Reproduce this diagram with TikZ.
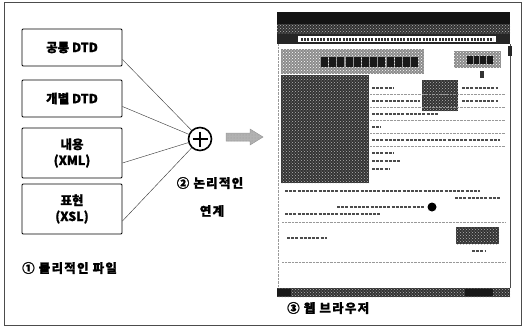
\documentclass[tikz,border=0pt]{standalone}
\usepackage{fontspec}
\newfontfamily\kr{Noto Sans CJK KR}[BoldFeatures={FakeBold=1.2}]
\newfontfamily\krl{Noto Sans CJK KR}[BoldFeatures={FakeBold=1.2}, LetterSpace=10]
\usetikzlibrary{calc,patterns}
\begin{document}
\begin{tikzpicture}[x=1pt,y=-1pt,
  fbox/.style={draw, line width=0.9pt, rounded corners=1pt, minimum width=100pt, inner sep=0pt,
    font=\kr\bfseries\fontsize{12.5}{16}\selectfont, align=center},
  link/.style={line width=0.45pt, black!75},
  lbl/.style={font=\krl\bfseries\fontsize{12.5}{14}\selectfont, inner sep=0pt},
  scrib/.style={line width=2.8pt, black!70, dash pattern=on 3pt off 1.2pt},
  fscrib/.style={line width=3pt, black!80, dash pattern=on 2pt off 1.2pt},
  sep/.style={line width=0.4pt, black!40, densely dotted},
  noisy/.style={fill=black!80, postaction={pattern=crosshatch dots, pattern color=white!70!black}},
  lnoisy/.style={fill=black!45, postaction={pattern=crosshatch dots, pattern color=white}}]
\useasboundingbox (0,0) rectangle (524,327);
\draw[line width=0.6pt, black!70] (4,2) rectangle (521,325);

% physical files
\node[fbox, minimum height=37pt] (b1) at (72,47.5) {공통 DTD};
\node[fbox, minimum height=37pt] (b2) at (72,98.5) {개별 DTD};
\node[fbox, minimum height=50pt] (b3) at (72,153) {내용\\(XML)};
\node[fbox, minimum height=50pt] (b4) at (72,209) {표현\\(XSL)};

% combiner
\node[circle, draw, line width=1.6pt, minimum size=23pt, inner sep=0pt] (c) at (200,139) {};
\draw[line width=1.6pt] ($(c.center)+(-7.5,0)$) -- ($(c.center)+(7.5,0)$);
\draw[line width=1.6pt] ($(c.center)+(0,-7.5)$) -- ($(c.center)+(0,7.5)$);

\draw[link] ([yshift=-12pt]b1.east) -- (c);
\draw[link] ([yshift=-8pt]b2.east) -- (c);
\draw[link] ([yshift=-10pt]b3.east) -- (c);
\draw[link] ([yshift=-12pt]b4.east) -- (c);

% block arrow
\filldraw[fill=gray!60, draw=gray!80, line width=0.5pt]
  (226,133) -- (250,133) -- (250,129) -- (263,137) -- (250,145) -- (250,141) -- (226,141) -- cycle;
\fill[pattern=dots, pattern color=black!40] (226,133) -- (250,133) -- (250,129) -- (263,137) -- (250,145) -- (250,141) -- (226,141) -- cycle;

% labels
\node[lbl, anchor=west] (l1) at (22,268) {① 물리적인 파일};
\node[lbl] (l2) at (210,183) {② 논리적인};
\node[lbl] (l3) at (212,211) {연계};
\node[lbl, anchor=west] (l4) at (287,308) {③ 웹 브라우저};

% browser screenshot
\fill[black!92] (277,12) rectangle (510,24);
\fill[noisy] (277,24) rectangle (510,34);
\fill[black!85] (277,34) rectangle (510,44);
\fill[white] (298,36) rectangle (496,42);
\draw[fscrib] (301,39) -- (493,39);
\fill[white] (278,44) rectangle (510,288);
\draw[sep] (278,44) -- (278,288);
\draw[line width=0.9pt, black!70] (510,44) -- (510,288);
\fill[black!85] (508,46) rectangle (512,56);
\fill[noisy] (277,288) rectangle (510,297);
\fill[black!90] (277,289) rectangle (291,296);
\fill[black!90] (465,289) rectangle (493,296);

% title band
\fill[lnoisy] (281,49) rectangle (424,74);
\draw[line width=10pt, black!90, dash pattern=on 7pt off 1.2pt] (321,62) -- (418,62);
\fill[lnoisy] (454,51) rectangle (501,68);
\draw[line width=8pt, black!90, dash pattern=on 5.5pt off 1.2pt] (467,59.5) -- (493,59.5);
\fill[black!80] (480,71) rectangle (484,78);

% image
\fill[noisy] (281,75) rectangle (369,183);
\fill[noisy] (422,80) rectangle (458,111);

% table text
\draw[scrib] (372,88) -- (394,88);
\draw[scrib] (462,88) -- (498,88);
\draw[sep] (370,94) -- (505,94);
\draw[scrib] (372,101) -- (420,101);
\draw[scrib] (462,101) -- (498,101);
\draw[sep] (370,107) -- (505,107);
\draw[scrib] (372,114) -- (438,114);
\draw[sep] (370,120) -- (505,120);
\draw[scrib] (372,127) -- (381,127);
\draw[sep] (370,133) -- (505,133);
\draw[scrib] (372,140) -- (500,140);
\draw[sep] (370,146) -- (505,146);
\draw[scrib] (372,153) -- (394,153);
\draw[scrib] (372,161) -- (400,161);
\draw[scrib] (372,169) -- (390,169);

% body text
\draw[scrib] (285,191) -- (480,191);
\draw[scrib] (455,198) -- (500,198);
\draw[scrib] (337,207) -- (425,207);
\fill[black] (432,207) circle (4.5);
\draw[scrib] (285,214) -- (380,214);
\draw[sep] (282,222) -- (505,222);
\draw[scrib] (287,238) -- (327,238);
\fill[noisy] (456,227) rectangle (499,244);
\draw[scrib] (472,251) -- (485,251);
\draw[sep] (282,262) -- (505,262);
\end{tikzpicture}
\end{document}
